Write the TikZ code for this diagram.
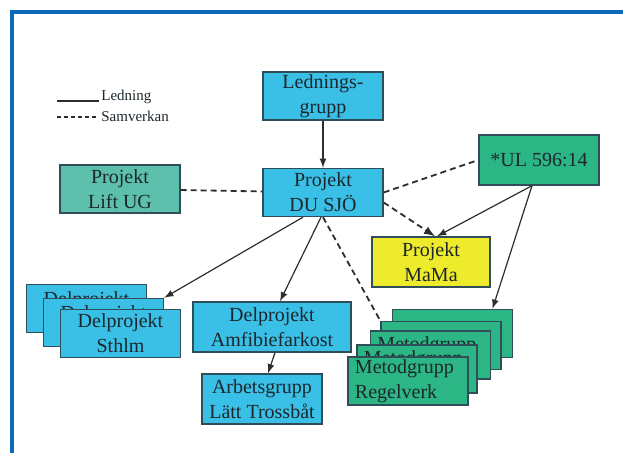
\documentclass[tikz,border=0pt]{standalone}
\usepackage{fontspec}
\setmainfont{Liberation Serif}

\definecolor{framebl}{RGB}{12,106,184}
\definecolor{boxcyan}{RGB}{58,192,230}
\definecolor{boxteal}{RGB}{92,192,172}
\definecolor{boxgreen}{RGB}{44,182,134}
\definecolor{boxyellow}{RGB}{238,234,44}
\definecolor{boxline}{RGB}{48,78,88}
\definecolor{lineg}{RGB}{45,45,45}
\definecolor{txt}{RGB}{28,38,44}

\tikzset{
	box/.style={draw=boxline, line width=0.7pt, minimum width=60pt, minimum height=24pt,
		inner sep=1pt, align=center, text=txt, font=\fontsize{10}{12.5}\selectfont},
	cyanbox/.style={box, fill=boxcyan},
	tealbox/.style={box, fill=boxteal},
	greenbox/.style={box, fill=boxgreen},
	yellowbox/.style={box, fill=boxyellow},
	metbox/.style={box, fill=boxgreen, text width=53pt, align=left, inner xsep=3.5pt},
	legtext/.style={anchor=west, inner sep=1pt, text=txt, font=\fontsize{7.5}{8}\selectfont},
	ledline/.style={draw=lineg, line width=0.6pt},
	samvline/.style={draw=lineg, line width=0.9pt, dash pattern=on 3pt off 2pt},
}
\newcommand{\hiddenline}[1]{\raisebox{-3pt}{#1}}

\begin{document}
\begin{tikzpicture}[x=0.5pt,y=-0.5pt][>=latex]
	\useasboundingbox (0,0) rectangle (623,453);
	\clip (0,0) rectangle (623,453);
	\coordinate (FrameMin) at (12,12);
	\coordinate (FrameMax) at (640,470);
	\draw[framebl, line width=1.6pt] (FrameMin) rectangle (FrameMax);% Frame, cut at right and bottom
	
	% Legend
	\node[legtext] (legled) at (99,97) {Ledning};
	\node[legtext] (legsamv) at (99,116) {Samverkan};
	\coordinate (LegSolid) at (57,101);
	\coordinate (LegDash) at (57,117);
	\draw[ledline, line width=0.8pt] (LegSolid) -- (LegSolid -| legled.west);
	\draw[samvline, line width=0.8pt, dash pattern=on 2pt off 1.5pt] (LegDash) -- (LegDash -| legsamv.west);
	
	\node[cyanbox] (led) at (323,96) {Lednings-\\grupp};
	\node[cyanbox] (du) at (323,192.5) {Projekt\\DU SJÖ};
	\node[tealbox] (lift) at (120,189) {Projekt\\Lift UG};
	\node[greenbox, minimum height=25pt] (ul) at (539,160) {*UL 596:14};
	\node[yellowbox, minimum width=59pt, minimum height=25pt] (mama) at (431,262) {Projekt\\MaMa};
	
	% Delprojekt, back to front
	\node[cyanbox] (del1) at (86.5,308.5) {\hiddenline{Delprojekt}\\\phantom{Sthlm}};
	\node[cyanbox] (del2) at (103.5,322.5) {\hiddenline{Delprojekt}\\\phantom{Sthlm}};
	\node[cyanbox] (del3) at (120.5,333.5) {Delprojekt\\Sthlm};
	
	\node[cyanbox, minimum width=79pt, minimum height=25pt] (amf) at (272,327) {Delprojekt\\Amfibiefarkost};
	\node[cyanbox, minimum height=25pt] (arb) at (262,399) {Arbetsgrupp\\Lätt Trossbåt};
	
	% Metodgrupper, back to front
	\node[metbox] (met1) at (452.5,333.5) {};
	\node[metbox] (met2) at (441,345.5) {};
	\node[metbox] (met3) at (430.5,355) {\hiddenline{Metodgrupp}\\\phantom{Regelverk}};
	\node[metbox] (met4) at (417,369) {\hiddenline{Metodgrupp}\\\phantom{Regelverk}};
	\node[metbox] (met5) at (408,381) {Metodgrupp\\Regelverk};
	
	\draw[ledline, ->, >=latex] (led) -- (du);
	\draw[samvline] (lift) -- (du);
	\draw[samvline] (du.east) -- (ul.west);
	\draw[samvline, ->, >=latex] ([yshift=-5pt]du.east) -- ([xshift=2pt]mama.north);
	\draw[ledline, ->, >=latex] ([xshift=-3.5pt]ul.south) -- ([xshift=3pt]mama.north);
	\draw[ledline, ->, >=latex] ([xshift=-3.5pt]ul.south) -- ([xshift=20pt]met1.north);
	\draw[ledline, ->, >=latex] ([xshift=-10pt]du.south) -- (del2.north east);
	\draw[ledline, ->, >=latex] ([xshift=-1pt]du.south) -- ([xshift=4pt]amf.north);
	\draw[samvline] (du.south) -- (met2.north west);
	\draw[ledline, ->, >=latex] ([xshift=1.5pt]amf.south) -- ([xshift=3pt]arb.north);
	
\end{tikzpicture}
\end{document}
